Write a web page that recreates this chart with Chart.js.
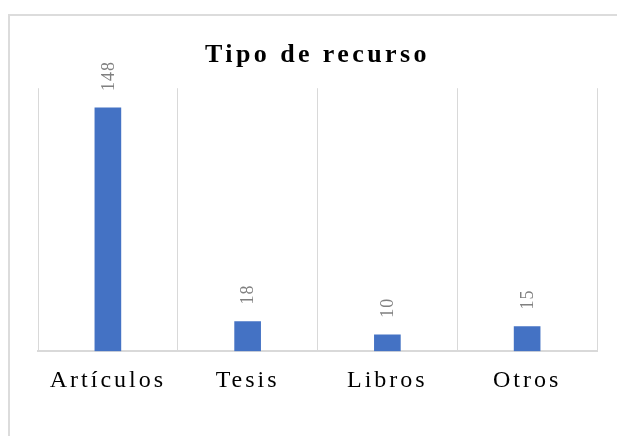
<!DOCTYPE html>
<html lang="es">
<head>
  <meta charset="UTF-8">
  <title>Tipo de recurso</title>
  <script src="https://cdn.jsdelivr.net/npm/chart.js"></script>
  <style>
    html, body { margin: 0; padding: 0; background: #fff; overflow: hidden; }
    #wrap { position: relative; width: 617px; height: 436px; }
    #frame { position: absolute; left: 8px; top: 14px; width: 620px; height: 430px;
             border-top: 2px solid #dcdcdc; border-left: 2px solid #dcdcdc; box-sizing: border-box; }
    #chart { position: absolute; left: 0; top: 0; }
  </style>
</head>
<body>

<div id="wrap">
  <div id="frame"></div>
  <canvas id="chart" width="617" height="436"></canvas>
</div>

<script>
  // data
  const categories = ['Artículos', 'Tesis', 'Libros', 'Otros'];
  const counts = [148, 18, 10, 15];
  const chartTitle = 'Tipo de recurso';
  const yMax = 160;

  // rotated value labels above each bar
  const valueLabels = {
    id: 'valueLabels',
    afterDatasetsDraw(chart) {
      const ctx = chart.ctx;
      const meta = chart.getDatasetMeta(0);
      ctx.save();
      ctx.letterSpacing = '1px';
      ctx.font = '18px "Liberation Serif", serif';
      ctx.fillStyle = '#808080';
      ctx.textAlign = 'left';
      ctx.textBaseline = 'middle';
      meta.data.forEach((bar, i) => {
        ctx.save();
        ctx.translate(bar.x + 1, bar.y - 17);
        ctx.rotate(-Math.PI / 2);
        ctx.fillText(String(counts[i]), 0, 0);
        ctx.restore();
      });
      ctx.restore();
    }
  };

  // Chart.js has no letter spacing option, so set it on the context
  const spacing = {
    id: 'spacing',
    afterLayout(chart) {
      const tb = chart.titleBlock;
      if (tb && !tb._spaced) {
        const orig = tb.draw.bind(tb);
        tb.draw = (area) => {
          chart.ctx.letterSpacing = '3.4px';
          orig(area);
          chart.ctx.letterSpacing = '3px';
        };
        tb._spaced = true;
      }
    },
    beforeDraw(chart) {
      chart.ctx.letterSpacing = '3px';
    },
    afterDraw(chart) {
      chart.ctx.letterSpacing = '0px';
    }
  };

  new Chart(document.getElementById('chart'), {
    type: 'bar',
    data: {
      labels: categories,
      datasets: [{
        data: counts,
        backgroundColor: '#4472C4',
        borderWidth: 0,
        barThickness: 26
      }]
    },
    options: {
      responsive: false,
      animation: false,
      layout: { padding: { left: 38, right: 20, top: 0, bottom: 26 } },
      plugins: {
        legend: { display: false },
        tooltip: { enabled: false },
        title: {
          display: true,
          text: chartTitle,
          color: '#000',
          font: { family: '"Liberation Serif", serif', size: 26, weight: 'bold' },
          padding: { top: 40, bottom: 17 }
        }
      },
      scales: {
        x: {
          grid: { color: '#d9d9d9', lineWidth: 1, drawTicks: false, offset: true },
          border: { color: '#d9d9d9', width: 2 },
          ticks: {
            color: '#000',
            font: { family: '"Liberation Serif", serif', size: 24 },
            padding: 15,
            maxRotation: 0
          }
        },
        y: {
          display: false,
          min: 0,
          max: yMax
        }
      }
    },
    plugins: [valueLabels, spacing]
  });
</script>

</body>
</html>
